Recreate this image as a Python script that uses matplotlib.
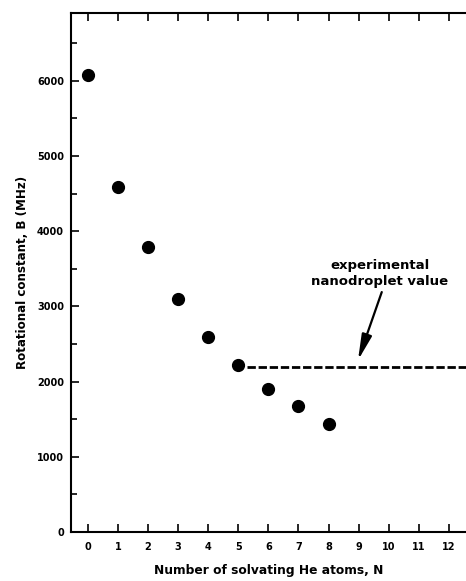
import matplotlib.pyplot as plt
from matplotlib.ticker import MultipleLocator

# He atoms attached and the rotational constant B (MHz)
n_atoms = [0, 1, 2, 3, 4, 5, 6, 7, 8]
b_const = [6080, 4590, 3790, 3100, 2590, 2215, 1905, 1675, 1435]

# experimental nanodroplet value, drawn as a dashed line
exp_value = 2190
exp_start, exp_end = 5.3, 12.6

plt.rcParams["font.family"] = ["DejaVu Sans"]
plt.rcParams["font.weight"] = "bold"

fig = plt.figure(figsize=(4.66, 5.81), dpi=100)
ax = fig.add_axes([0.152, 0.0843, 0.848, 0.8933])

ax.plot(n_atoms, b_const, "o", color="black", ms=8.5)
ax.plot([exp_start, exp_end], [exp_value, exp_value], color="black",
        lw=2, dashes=(3, 1))

# label and arrow pointing at the dashed line
ax.text(9.7, 3440, "experimental\nnanodroplet value", ha="center",
        va="center", fontsize=9.5, fontweight="bold", linespacing=1.25)
ax.annotate("", xy=(8.98, 2284), xytext=(9.77, 3190),
            arrowprops=dict(arrowstyle="-|>,head_length=1.1,head_width=0.22",
                            color="black", lw=1.6, mutation_scale=14,
                            shrinkA=0, shrinkB=0))

ax.set_xlim(-0.565, 12.57)
ax.set_ylim(0, 6900)
ax.xaxis.set_major_locator(MultipleLocator(1))
ax.yaxis.set_major_locator(MultipleLocator(1000))
ax.yaxis.set_minor_locator(MultipleLocator(500))
ax.tick_params(axis="both", which="both", direction="in", top=True,
               labelsize=7, width=1.2)
ax.tick_params(axis="both", which="major", length=6)
ax.tick_params(axis="both", which="minor", length=4)
ax.tick_params(axis="x", pad=7)
ax.tick_params(axis="y", pad=5)
for side in ["left", "bottom", "top"]:
    ax.spines[side].set_linewidth(1.5)
ax.spines["right"].set_visible(False)

ax.set_xlabel("Number of solvating He atoms, N", fontsize=8.8,
              fontweight="bold", labelpad=9)
ax.set_ylabel("Rotational constant, B (MHz)", fontsize=8.6,
              fontweight="bold", labelpad=6)

fig.savefig("out.png", dpi=100)
